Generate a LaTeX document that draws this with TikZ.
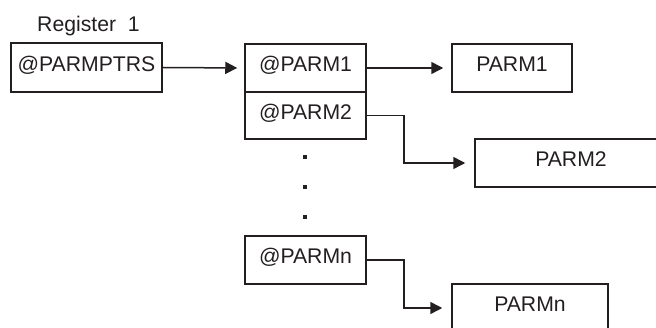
\documentclass[tikz,border=0pt]{standalone}
\usepackage{fontspec}
\setmainfont{Liberation Sans}
\usetikzlibrary{arrows.meta}
\definecolor{ink}{HTML}{231F20}
\tikzset{
  box/.style={draw=ink, line width=1.5pt, inner sep=0pt, text=ink,
    font=\fontsize{21.2}{25}\selectfont, text height=0.716em, text depth=0pt,
    minimum height=48pt},
  link/.style={draw=ink, line width=1.5pt, -{Triangle[length=12pt,width=12pt]}},
  gap/.style={shorten >=#1},
  vdot/.style={fill=ink, inner sep=0pt, minimum size=3.8pt}
}
\begin{document}
\begin{tikzpicture}[x=1pt, y=-1pt]
  \useasboundingbox (0,0) rectangle (656,328);
  \clip (0,0) rectangle (656,328);

  % register label
  \node[anchor=base west, text=ink, font=\fontsize{21.2}{25}\selectfont, inner sep=0pt]
    (reg) at (37,31.5) {Register\ \ 1};

  % pointer list and the parameters it addresses
  \node[box, minimum width=151pt, minimum height=49pt] (ptrs) at (86.5,67.5) {@PARMPTRS};
  \node[box, minimum width=121pt] (p1) at (305.5,68) {@PARM1};
  \node[box, minimum width=121pt, minimum height=47pt] (p2) at (305.5,115.5) {@PARM2};
  \node[box, minimum width=121pt] (pn) at (305.5,260) {@PARMn};

  \node[box, minimum width=120pt] (q1) at (512,68) {PARM1};
  \node[box, minimum width=192pt] (q2) at (571,163) {PARM2};
  \node[box, minimum width=156pt] (qn) at (530,308) {PARMn};

  % ellipsis between @PARM2 and @PARMn
  \node[vdot] (d1) at (305,157) {};
  \node[vdot] (d2) at (305,187) {};
  \node[vdot] (d3) at (305,217) {};

  % connectors
  \draw[link, gap=7pt] (ptrs.east) -- (p1.west);
  \draw[link, gap=8pt] (p1.east) -- (q1.west);
  \draw[link, gap=9pt] (p2.east) -- ++(37,0) |- (q2.west);
  \draw[link, gap=9pt] (pn.east) -- ++(37,0) |- (qn.west);
\end{tikzpicture}
\end{document}
